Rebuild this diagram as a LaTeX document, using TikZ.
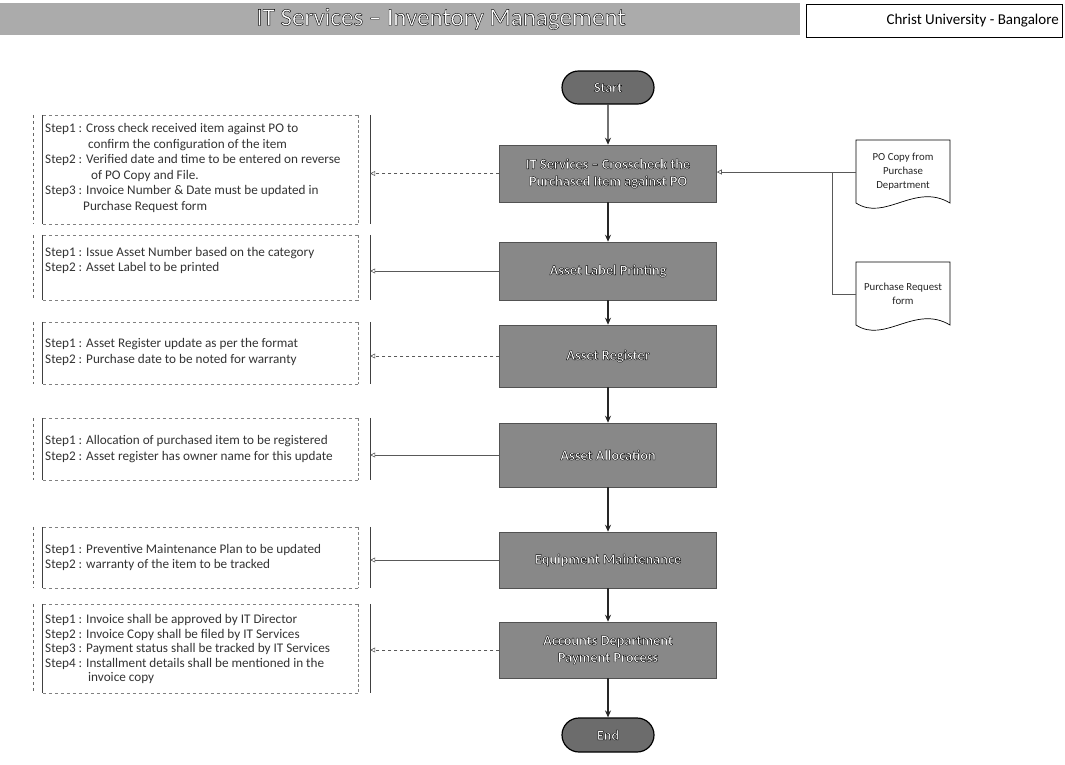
\documentclass[tikz,border=0pt]{standalone}
\usepackage{fontspec}
\setmainfont{Carlito}
\usetikzlibrary{arrows.meta,shapes.misc,calc}
\definecolor{boxgray}{HTML}{888888}
\definecolor{termgray}{HTML}{6C6C6C}
\definecolor{bandgray}{HTML}{ABABAB}
\newcommand{\outl}[1]{\special{pdf:literal direct 2 Tr 0.4 w 0 0 0 RG}#1\special{pdf:literal direct 0 Tr}}
\newcommand{\annbox}[1]{%
  \draw[gray, dashed, line width=0.5pt] (#1.north west) -- (#1.north east) (#1.south west) -- (#1.south east);
  \draw[black!75, line width=0.7pt] (#1.north west) -- (#1.south west);
  \draw[gray!80!black, dashed, line width=0.6pt] ($(#1.north west)+(-10,0)$) -- ($(#1.south west)+(-10,0)$);
  \draw[gray, densely dashed, line width=0.6pt] (#1.north east) -- (#1.south east);
  \draw[black!75, line width=0.7pt] ($(#1.north east)+(12,0)$) -- ($(#1.south east)+(12,0)$);
  \coordinate (#1r) at ($(#1.east)+(12,0)$);}
\begin{document}
\begin{tikzpicture}[x=1pt,y=-1pt,
  flow/.style={rectangle, fill=boxgray, draw=boxgray!60!black, line width=0.5pt, minimum width=217pt, inner sep=0pt, text=white, align=center, font=\bfseries\fontsize{14.3}{17}\selectfont},
  term/.style={rounded rectangle, fill=termgray, draw=black, line width=1.2pt, minimum width=92pt, minimum height=33pt, inner sep=0pt, text=white, font=\bfseries\fontsize{14}{16}\selectfont},
  flowarrow/.style={-{Stealth[length=7pt,width=6pt]}, line width=1.1pt, draw=black!85},
  notearrow/.style={-{Triangle[open,length=5pt,width=5pt]}, line width=0.6pt, draw=black!65},
  frame/.style={rectangle, minimum width=315pt, inner sep=0pt},
  notetext/.style={anchor=west, align=left, inner sep=0pt, font=\fontsize{13.2}{15.5}\selectfont, text=black!80},
  doc/.style={rectangle, minimum width=94pt, inner sep=0pt, align=center, font=\fontsize{10.8}{14}\selectfont, text=black!85},
  docline/.style={draw=black, line width=0.7pt, fill=white},
]
\useasboundingbox (0,0) rectangle (1065,764);
% title band
\node[rectangle, fill=bandgray, minimum width=800pt, minimum height=32pt, inner sep=0pt] (band) at (400,19) {};
\node[text=white, font=\fontsize{25}{28}\selectfont, inner sep=0pt] (title) at (441,19) {\outl{IT Services -- Inventory Management}};
\node[rectangle, draw=black, line width=0.7pt, minimum width=256pt, minimum height=33pt, inner sep=0pt] (uni) at (934,20.5) {};
\node[anchor=east, font=\fontsize{15}{17}\selectfont, inner sep=0pt] (unitext) at (1059,21) {Christ University - Bangalore};
% flow
\node[term] (start) at (608,87.5) {\outl{Start}};
\node[flow, minimum height=57pt] (b1) at (608,173.5) {\outl{IT Services -- Crosscheck the}\\\outl{Purchased Item against PO}};
\node[flow, minimum height=58pt] (b2) at (608,271) {\outl{Asset Label Printing}};
\node[flow, minimum height=62pt] (b3) at (608,356) {\outl{Asset Register}};
\node[flow, minimum height=64pt] (b4) at (608,455) {\outl{Asset Allocation}};
\node[flow, minimum height=56pt] (b5) at (608,560) {\outl{Equipment Maintenance}};
\node[flow, minimum height=56pt] (b6) at (608,650) {\outl{Accounts Department}\\\outl{Payment Process}};
\node[term, minimum height=34pt] (end) at (608,735) {\outl{End}};
\draw[flowarrow] (start) -- (b1);
\draw[flowarrow] (b1) -- (b2);
\draw[flowarrow] (b2) -- (b3);
\draw[flowarrow] (b3) -- (b4);
\draw[flowarrow] (b4) -- (b5);
\draw[flowarrow] (b5) -- (b6);
\draw[flowarrow] (b6) -- (end);
% documents
\draw[docline] (856,140) -- (950,140) -- (950,203) .. controls (915,182) and (885,222) .. (856,203) -- cycle;
\node[doc, minimum height=62pt] (po) at (903,172) {PO Copy from\\Purchase\\Department};
\draw[docline] (856,262) -- (950,262) -- (950,325) .. controls (915,304) and (885,344) .. (856,325) -- cycle;
\node[doc, minimum height=62pt] (pr) at (903,294) {Purchase Request\\form};
\coordinate (jn) at (832,172);
\draw[notearrow] (po.west) -- (po.west -| b1.east);
\draw[line width=0.6pt, draw=black!65] (pr.west) -| (jn);
% annotations
\node[frame, minimum height=109pt] (a1) at (200.5,169.5) {};
\node[frame, minimum height=65pt] (a2) at (200.5,267.5) {};
\node[frame, minimum height=62pt] (a3) at (200.5,353) {};
\node[frame, minimum height=62pt] (a4) at (200.5,449) {};
\node[frame, minimum height=61pt] (a5) at (200.5,557.5) {};
\node[frame, minimum height=89pt] (a6) at (200.5,648.5) {};
\annbox{a1}\annbox{a2}\annbox{a3}\annbox{a4}\annbox{a5}\annbox{a6}
\node[notetext] (t1) at (45,168) {Step1 : Cross check received item against PO to\\\hspace*{43pt}confirm the configuration of the item\\Step2 : Verified date and time to be entered on reverse\\\hspace*{46pt}of PO Copy and File.\\Step3 : Invoice Number \& Date must be updated in\\\hspace*{38pt}Purchase Request form};
\node[notetext] (t2) at (45,260.5) {Step1 : Issue Asset Number based on the category\\Step2 : Asset Label to be printed};
\node[notetext] (t3) at (45,352) {Step1 : Asset Register update as per the format\\Step2 : Purchase date to be noted for warranty};
\node[notetext] (t4) at (45,449) {Step1 : Allocation of purchased item to be registered\\Step2 : Asset register has owner name for this update};
\node[notetext] (t5) at (45,557.5) {Step1 : Preventive Maintenance Plan to be updated\\Step2 : warranty of the item to be tracked};
\node[notetext, font=\fontsize{13.2}{14.5}\selectfont] (t6) at (45,649) {Step1 : Invoice shall be approved by IT Director\\Step2 : Invoice Copy shall be filed by IT Services\\Step3 : Payment status shall be tracked by IT Services\\Step4 : Installment details shall be mentioned in the\\\hspace*{43pt}invoice copy};
\draw[notearrow, dashed] (b1.west) -- (b1.west -| a1r);
\draw[notearrow] (b2.west) -- (b2.west -| a2r);
\draw[notearrow, dashed] (b3.west) -- (b3.west -| a3r);
\draw[notearrow] (b4.west) -- (b4.west -| a4r);
\draw[notearrow] (b5.west) -- (b5.west -| a5r);
\draw[notearrow, dashed] (b6.west) -- (b6.west -| a6r);
\end{tikzpicture}
\end{document}
